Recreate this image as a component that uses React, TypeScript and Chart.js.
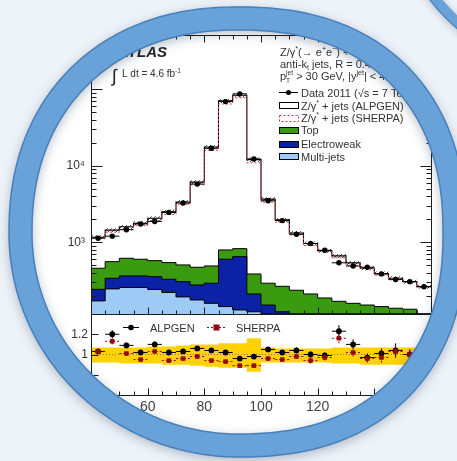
import React, { useEffect, useRef } from 'react';
import { Chart, registerables } from 'chart.js';

Chart.register(...registerables);

const FONT = '"Liberation Sans", Arial, Helvetica, sans-serif';

// ---------------- data ----------------
const binEdges = [40, 45, 50, 55, 60, 65, 70, 75, 80, 85, 90, 95, 100, 105, 110, 115, 120, 125, 130, 135, 140, 145, 150, 155, 160];
const xTickValues = [40, 60, 80, 100, 120, 140, 160];

const dataEvents = [1136, 1208, 1468, 1745, 1882, 2471, 3282, 5792, 17019, 69412, 87500, 12347, 3505, 1931, 1279, 968, 789, 542, 491, 474, 388, 327, 307, 264];
const alpgenTotal = [1170, 1450, 1600, 1780, 2070, 2520, 3380, 6140, 17700, 70800, 84000, 12100, 3680, 1970, 1330, 968, 781, 667, 540, 460, 392, 340, 307, 264];
const sherpaTotal = [1170, 1365, 1483, 1658, 1938, 2323, 3151, 5676, 15998, 64553, 77875, 10989, 3365, 1834, 1253, 910, 765, 629, 501, 455, 376, 337, 307, 264];
const mcRelErr = [0.06, 0.06, 0.06, 0.06, 0.06, 0.06, 0.06, 0.06, 0.06, 0.06, 0.06, 0.07, 0.06, 0.06, 0.06, 0.06, 0.06, 0.06, 0.06, 0.06, 0.06, 0.06, 0.06, 0.06];

const topBkg = [216, 221, 256, 238, 221, 215, 201, 196, 200, 195, 178, 175, 141, 143, 237, 212, 188, 170, 160, 152, 145, 138, 134, 0];
const ewBkg = [72, 93, 107, 107, 114, 108, 113, 101, 133, 458, 521, 88, 152, 124, 0, 0, 0, 0, 0, 0, 0, 0, 0, 0];
const multijetBkg = [172, 247, 258, 258, 243, 222, 194, 177, 160, 145, 131, 124, 0, 0, 0, 0, 0, 0, 0, 0, 0, 0, 0, 0];

const alpgenRatio = [1.03, 1.20, 1.09, 1.02, 1.10, 1.02, 1.03, 1.06, 1.04, 1.02, 0.96, 0.98, 1.05, 1.02, 1.04, 1.00, 0.99, 1.23, 1.10, 0.97, 1.01, 1.04, 1.00, 1.00];
const alpgenRatioErr = [0.02, 0.04, 0.03, 0.02, 0.03, 0.02, 0.02, 0.02, 0.02, 0.01, 0.01, 0.02, 0.02, 0.02, 0.03, 0.03, 0.03, 0.06, 0.05, 0.04, 0.05, 0.07, 0.05, 0.05];
const sherpaRatio = [1.03, 1.13, 1.01, 0.95, 1.03, 0.94, 0.96, 0.98, 0.94, 0.93, 0.89, 0.89, 0.96, 0.95, 0.98, 0.94, 0.97, 1.16, 1.02, 0.96, 0.97, 1.03, 1.00, 1.00];
const sherpaRatioErr = [0.02, 0.03, 0.02, 0.02, 0.02, 0.02, 0.02, 0.02, 0.02, 0.01, 0.01, 0.02, 0.02, 0.02, 0.02, 0.03, 0.03, 0.05, 0.04, 0.04, 0.05, 0.06, 0.05, 0.05];
const ratioBandHigh = [1.07, 1.07, 1.07, 1.07, 1.08, 1.08, 1.09, 1.10, 1.10, 1.11, 1.11, 1.16, 1.07, 1.06, 1.06, 1.06, 1.06, 1.07, 1.07, 1.07, 1.07, 1.07, 1.07, 1.07];
const ratioBandLow = [0.92, 0.92, 0.91, 0.91, 0.91, 0.90, 0.90, 0.89, 0.88, 0.87, 0.87, 0.83, 0.92, 0.92, 0.92, 0.92, 0.92, 0.91, 0.91, 0.90, 0.90, 0.90, 0.90, 0.90];
const ratioLabelValues = [0.8, 1, 1.2];

const Y_MIN = 116;
const Y_MAX = 515000;
const R_MIN = 0.6;
const R_MAX = 1.4;

// ---------------- colours ----------------
const C_GREEN = '#3a9a10';
const C_EW = '#0b22a6';
const C_MJ = '#9ecbf6';
const C_YELLOW = '#ffd200';
const C_RED = '#d23a3a';
const C_DARKRED = '#940a0a';
const C_TEXT = '#333333';
const C_BG = '#eef3f9';
const C_RING = '#68a2d8';
const C_RING_EDGE = '#4780ba';

// ---------------- helpers ----------------
const centers = binEdges.slice(0, -1).map((e, i) => (e + binEdges[i + 1]) / 2);
const steps = (vals: number[]) => [
  ...vals.map((v, i) => ({ x: binEdges[i], y: v })),
  { x: binEdges[binEdges.length - 1], y: vals[vals.length - 1] },
];
const floorLog = (v: number) => Math.max(v, Y_MIN);
const cumMJ = multijetBkg.map((v) => floorLog(v));
const cumEW = multijetBkg.map((v, i) => floorLog(v + ewBkg[i]));
const cumTop = multijetBkg.map((v, i) => floorLog(v + ewBkg[i] + topBkg[i]));
const mcLow = alpgenTotal.map((v, i) => v * (1 - mcRelErr[i]));
const mcHigh = alpgenTotal.map((v, i) => v * (1 + mcRelErr[i]));

const hBars = (vals: number[]) => {
  const out: any[] = [];
  vals.forEach((v, i) => {
    out.push({ x: binEdges[i], y: v }, { x: binEdges[i + 1], y: v }, { x: binEdges[i + 1], y: null });
  });
  return out;
};
const errBars = (vals: number[], errs: number[]) => {
  const out: any[] = hBars(vals);
  vals.forEach((v, i) => {
    out.push({ x: centers[i], y: v - errs[i] }, { x: centers[i], y: v + errs[i] }, { x: centers[i], y: null });
  });
  return out;
};
const points = (vals: number[]) => vals.map((v, i) => ({ x: centers[i], y: v }));

const SUP: Record<string, string> = { '0': '⁰', '1': '¹', '2': '²', '3': '³', '4': '⁴', '5': '⁵', '6': '⁶', '7': '⁷', '8': '⁸', '9': '⁹' };

type Part = [string, 'n' | 'sup' | 'sub' | 'supsub', string?];
function rich(ctx: CanvasRenderingContext2D, parts: Part[], x: number, y: number, size: number, color = C_TEXT, style = '') {
  ctx.fillStyle = color;
  ctx.textBaseline = 'alphabetic';
  ctx.textAlign = 'left';
  let cx = x;
  for (const [t, kind, t2] of parts) {
    if (kind === 'n') {
      ctx.font = `${style}${size}px ${FONT}`;
      ctx.fillText(t, cx, y);
      cx += ctx.measureText(t).width;
    } else if (kind === 'sup') {
      ctx.font = `${style}${size * 0.65}px ${FONT}`;
      ctx.fillText(t, cx, y - size * 0.42);
      cx += ctx.measureText(t).width;
    } else if (kind === 'sub') {
      ctx.font = `${style}${size * 0.65}px ${FONT}`;
      ctx.fillText(t, cx, y + size * 0.22);
      cx += ctx.measureText(t).width;
    } else {
      ctx.font = `${style}${size * 0.6}px ${FONT}`;
      ctx.fillText(t, cx, y - size * 0.45);
      const w1 = ctx.measureText(t).width;
      ctx.fillText(t2 || '', cx, y + size * 0.25);
      const w2 = ctx.measureText(t2 || '').width;
      cx += Math.max(w1, w2);
    }
  }
  return cx;
}

// lens geometry (decorative magnifier ring, slightly squarish)
const LENS = { cx: 238, cy: 233, aL: 206, aR: 205, bT: 203, bB: 201, nTL: 2.2, nTR: 2.3, nBR: 2.3, nBL: 2.0, w: 23 };
const LENS2 = { cx: 575, cy: -110, r: 172, w: 10 };

function lensPath(ctx: CanvasRenderingContext2D, grow: number) {
  const N = 360;
  for (let i = 0; i <= N; i++) {
    const t = (i / N) * Math.PI * 2;
    const c = Math.cos(t);
    const s = Math.sin(t);
    const right = c >= 0;
    const bottom = s >= 0;
    const n = right ? (bottom ? LENS.nBR : LENS.nTR) : (bottom ? LENS.nBL : LENS.nTL);
    const a = (right ? LENS.aR : LENS.aL) + grow;
    const b = (bottom ? LENS.bB : LENS.bT) + grow;
    const x = LENS.cx + a * Math.sign(c) * Math.pow(Math.abs(c), 2 / n);
    const y = LENS.cy + b * Math.sign(s) * Math.pow(Math.abs(s), 2 / n);
    if (i === 0) ctx.moveTo(x, y);
    else ctx.lineTo(x, y);
  }
  ctx.closePath();
}

const framePlugin = {
  id: 'frame',
  afterDatasetsDraw(chart: any) {
    const ctx: CanvasRenderingContext2D = chart.ctx;
    const xs = chart.scales.x;
    const ym = chart.scales.y;
    const yr = chart.scales.yr;
    const L = Math.round(xs.left) + 0.5;
    const R = Math.round(xs.right) + 0.5;
    const T = Math.round(ym.top) + 0.5;
    const M = Math.round(ym.bottom) + 0.5;
    const B = Math.round(yr.bottom) + 0.5;
    ctx.save();
    ctx.strokeStyle = '#1a1a1a';
    ctx.lineWidth = 1;
    const line = (x1: number, y1: number, x2: number, y2: number) => {
      ctx.beginPath();
      ctx.moveTo(x1, y1);
      ctx.lineTo(x2, y2);
      ctx.stroke();
    };
    line(L, T, R, T);
    line(L, M, R, M);
    line(L, B, R, B);
    line(L, T, L, B);
    line(R, T, R, B);
    for (let v = xs.min; v <= xs.max + 1e-9; v += binEdges[1] - binEdges[0]) {
      const px = Math.round(xs.getPixelForValue(v)) + 0.5;
      const major = xTickValues.includes(v);
      const len = major ? 7 : 4;
      line(px, T, px, T + len);
      line(px, M, px, M - len);
      line(px, B, px, B - len);
    }
    for (let d = Math.floor(Math.log10(ym.min)); d <= Math.ceil(Math.log10(ym.max)); d++) {
      for (let k = 1; k <= 9; k++) {
        const v = k * Math.pow(10, d);
        if (v < ym.min || v > ym.max) continue;
        const py = Math.round(ym.getPixelForValue(v)) + 0.5;
        const len = k === 1 ? 11 : 5;
        line(L, py, L + len, py);
        line(R, py, R - len, py);
      }
    }
    for (const t of yr.ticks) {
      const py = Math.round(yr.getPixelForValue(t.value)) + 0.5;
      line(L, py, L + 7, py);
      line(R, py, R - 7, py);
    }
    ctx.restore();

    // ---- annotations ----
    ctx.save();
    ctx.font = `italic bold 15px ${FONT}`;
    const aw = ctx.measureText('ATLAS').width;
    ctx.fillStyle = '#222';
    ctx.textBaseline = 'alphabetic';
    ctx.fillText('ATLAS', 167 - aw, 57);
    ctx.font = `18px ${FONT}`;
    ctx.fillText('∫', 112, 82);
    rich(ctx, [['L dt = 4.6 fb', 'n'], ['-1', 'sup']], 122, 77, 10);

    rich(ctx, [['Z/γ', 'n'], ['*', 'sup'], ['(→ e', 'n'], ['+', 'sup'], ['e', 'n'], ['−', 'sup'], [') + ≥ 1 jet', 'n']], 280, 56, 11);
    rich(ctx, [['anti-k', 'n'], ['t', 'sub'], [' jets, R = 0.4', 'n']], 280, 68, 11);
    rich(ctx, [['p', 'n'], ['jet', 'supsub', 'T'], [' > 30 GeV, |y', 'n'], ['jet', 'sup'], ['| < 4.4', 'n']], 280, 80, 11);

    const lx1 = 279, lx2 = 298, tx = 301;
    ctx.strokeStyle = '#000';
    ctx.lineWidth = 1;
    line(lx1, 92.5, lx2, 92.5);
    ctx.beginPath();
    ctx.arc((lx1 + lx2) / 2, 92.5, 2.5, 0, Math.PI * 2);
    ctx.fillStyle = '#000';
    ctx.fill();
    rich(ctx, [['Data 2011 (√s = 7 TeV)', 'n']], tx, 96.5, 11);
    ctx.fillStyle = '#fff';
    ctx.fillRect(lx1 + 0.5, 102.5, lx2 - lx1, 6);
    ctx.strokeRect(lx1 + 0.5, 102.5, lx2 - lx1, 6);
    rich(ctx, [['Z/γ', 'n'], ['*', 'sup'], [' + jets (ALPGEN)', 'n']], tx, 109.5, 11);
    ctx.save();
    ctx.strokeStyle = C_RED;
    ctx.setLineDash([2, 2]);
    ctx.strokeRect(lx1 + 0.5, 115.5, lx2 - lx1, 6);
    ctx.restore();
    rich(ctx, [['Z/γ', 'n'], ['*', 'sup'], [' + jets (SHERPA)', 'n']], tx, 122, 11);
    const box = (y: number, col: string, label: string, by: number) => {
      ctx.fillStyle = col;
      ctx.fillRect(lx1 + 0.5, y, lx2 - lx1, 6);
      ctx.strokeStyle = '#000';
      ctx.strokeRect(lx1 + 0.5, y, lx2 - lx1, 6);
      rich(ctx, [[label, 'n']], tx, by, 11);
    };
    box(127.5, C_GREEN, 'Top', 134);
    box(141.5, C_EW, 'Electroweak', 148);
    box(153.5, C_MJ, 'Multi-jets', 160.5);

    ctx.strokeStyle = '#000';
    line(123, 327.5, 139, 327.5);
    ctx.beginPath();
    ctx.arc(131, 327.5, 2.8, 0, Math.PI * 2);
    ctx.fillStyle = '#000';
    ctx.fill();
    rich(ctx, [['ALPGEN', 'n']], 150, 332, 11);
    ctx.save();
    ctx.strokeStyle = C_DARKRED;
    ctx.setLineDash([2, 2]);
    line(207, 327.5, 226, 327.5);
    ctx.restore();
    ctx.fillStyle = C_DARKRED;
    ctx.fillRect(213.5, 324.5, 6, 6);
    rich(ctx, [['SHERPA', 'n']], 236, 332, 11);
    ctx.restore();
  },
};

const lensPlugin = {
  id: 'lens',
  beforeDraw(chart: any) {
    const ctx: CanvasRenderingContext2D = chart.ctx;
    ctx.save();
    ctx.fillStyle = '#ffffff';
    ctx.fillRect(0, 0, chart.width, chart.height);
    ctx.restore();
  },
  afterDraw(chart: any) {
    const ctx: CanvasRenderingContext2D = chart.ctx;
    const { width, height } = chart;
    ctx.save();
    ctx.beginPath();
    ctx.rect(0, 0, width, height);
    lensPath(ctx, 0);
    ctx.fillStyle = C_BG;
    ctx.fill('evenodd');

    // second lens (top-right corner)
    ctx.save();
    ctx.shadowColor = 'rgba(40,60,90,0.3)';
    ctx.shadowBlur = 8;
    ctx.shadowOffsetY = 2;
    ctx.beginPath();
    ctx.arc(LENS2.cx, LENS2.cy, LENS2.r + LENS2.w, 0, Math.PI * 2);
    ctx.arc(LENS2.cx, LENS2.cy, LENS2.r, 0, Math.PI * 2);
    ctx.fillStyle = C_RING;
    ctx.fill('evenodd');
    ctx.restore();
    ctx.strokeStyle = C_RING_EDGE;
    ctx.lineWidth = 1.2;
    ctx.beginPath();
    ctx.arc(LENS2.cx, LENS2.cy, LENS2.r + LENS2.w, 0, Math.PI * 2);
    ctx.stroke();

    // main lens ring
    ctx.save();
    ctx.shadowColor = 'rgba(40,60,90,0.35)';
    ctx.shadowBlur = 12;
    ctx.shadowOffsetY = 3;
    ctx.beginPath();
    lensPath(ctx, LENS.w);
    lensPath(ctx, 0);
    ctx.fillStyle = C_RING;
    ctx.fill('evenodd');
    ctx.restore();
    ctx.strokeStyle = C_RING_EDGE;
    ctx.lineWidth = 1.5;
    ctx.beginPath();
    lensPath(ctx, LENS.w);
    ctx.stroke();
    ctx.beginPath();
    lensPath(ctx, 0);
    ctx.stroke();
    ctx.restore();
  },
};

export default function App() {
  const ref = useRef<HTMLCanvasElement>(null);
  useEffect(() => {
    const canvas = ref.current!;
    const pc = document.createElement('canvas');
    pc.width = 4;
    pc.height = 4;
    const p = pc.getContext('2d')!;
    p.strokeStyle = 'rgba(0,0,0,0.85)';
    p.lineWidth = 0.8;
    p.beginPath();
    p.moveTo(0, 4);
    p.lineTo(4, 0);
    p.stroke();
    const hatch = canvas.getContext('2d')!.createPattern(pc, 'repeat');

    const stepDs = (vals: number[], extra: any) => ({
      type: 'line',
      data: steps(vals),
      stepped: true,
      pointRadius: 0,
      borderWidth: 1,
      ...extra,
    });

    const chart = new Chart(canvas, {
      type: 'line',
      data: {
        datasets: [
          stepDs(ratioBandLow, { yAxisID: 'yr', borderWidth: 0, fill: false, order: 100 }),
          stepDs(ratioBandHigh, { yAxisID: 'yr', borderWidth: 0, fill: '-1', backgroundColor: C_YELLOW, order: 99 }),
          {
            type: 'line', yAxisID: 'yr', order: 98, pointRadius: 0, borderWidth: 1,
            borderColor: '#8a7a50', borderDash: [1, 2],
            data: [{ x: binEdges[0], y: 1 }, { x: binEdges[binEdges.length - 1], y: 1 }],
          },
          stepDs(cumTop, { yAxisID: 'y', fill: 'start', backgroundColor: C_GREEN, borderColor: '#000', order: 90 }),
          stepDs(cumEW, { yAxisID: 'y', fill: 'start', backgroundColor: C_EW, borderColor: '#000', order: 89 }),
          stepDs(cumMJ, { yAxisID: 'y', fill: 'start', backgroundColor: C_MJ, borderColor: '#000', order: 88 }),
          stepDs(mcLow, { yAxisID: 'y', borderWidth: 0, fill: false, order: 80 }),
          stepDs(mcHigh, { yAxisID: 'y', borderWidth: 0, fill: '-1', backgroundColor: hatch, order: 79 }),
          stepDs(alpgenTotal, { yAxisID: 'y', borderColor: '#000', borderWidth: 1.1, fill: false, order: 70 }),
          stepDs(sherpaTotal, { yAxisID: 'y', borderColor: C_RED, borderDash: [2, 2], borderWidth: 1, fill: false, order: 69 }),
          {
            type: 'line', yAxisID: 'y', order: 60, pointRadius: 0, borderWidth: 1, borderColor: '#000',
            spanGaps: false, data: hBars(dataEvents),
          },
          {
            type: 'line', yAxisID: 'y', order: 59, showLine: false, pointRadius: 2.7,
            pointBackgroundColor: '#000', pointBorderColor: '#000', pointBorderWidth: 0,
            data: points(dataEvents),
          },
          {
            type: 'line', yAxisID: 'yr', order: 52, pointRadius: 0, borderWidth: 1, borderColor: '#000',
            spanGaps: false, data: errBars(alpgenRatio, alpgenRatioErr),
          },
          {
            type: 'line', yAxisID: 'yr', order: 51, showLine: false, pointRadius: 2.9,
            pointBackgroundColor: '#000', pointBorderColor: '#000', pointBorderWidth: 0,
            data: points(alpgenRatio),
          },
          {
            type: 'line', yAxisID: 'yr', order: 50, pointRadius: 0, borderWidth: 1, borderColor: C_DARKRED,
            borderDash: [2, 2], spanGaps: false, data: errBars(sherpaRatio, sherpaRatioErr),
          },
          {
            type: 'line', yAxisID: 'yr', order: 49, showLine: false, pointRadius: 3.2, pointStyle: 'rect',
            pointBackgroundColor: C_DARKRED, pointBorderColor: C_DARKRED, pointBorderWidth: 0,
            data: points(sherpaRatio),
          },
        ] as any,
      },
      options: {
        responsive: false,
        devicePixelRatio: 1,
        animation: false,
        events: [],
        layout: { padding: { top: 35, right: 26, left: 0, bottom: 0 } },
        plugins: {
          legend: { display: false },
          tooltip: { enabled: false },
          colors: { enabled: false },
        } as any,
        scales: {
          x: {
            type: 'linear',
            min: binEdges[0],
            max: binEdges[binEdges.length - 1],
            grid: { display: false, drawTicks: false },
            border: { display: false },
            afterBuildTicks: (scale: any) => {
              scale.ticks = xTickValues.map((v) => ({ value: v }));
            },
            afterFit: (scale: any) => {
              scale.height = 66;
            },
            ticks: {
              padding: 4,
              maxRotation: 0,
              autoSkip: false,
              color: '#444',
              font: { family: FONT, size: 14 },
              callback: (v: any) => String(v),
            },
          },
          yr: {
            type: 'linear',
            position: 'left',
            stack: 'panels',
            stackWeight: 81,
            min: R_MIN,
            max: R_MAX,
            grid: { display: false, drawTicks: false },
            border: { display: false },
            afterFit: (scale: any) => {
              scale.width = 91;
            },
            ticks: {
              stepSize: 0.2,
              padding: 3,
              autoSkip: false,
              color: C_TEXT,
              font: { family: FONT, size: 12 },
              callback: (v: any) => {
                const r = Math.round(Number(v) * 10) / 10;
                return ratioLabelValues.includes(r) ? String(r) : '';
              },
            },
          },
          y: {
            type: 'logarithmic',
            position: 'left',
            stack: 'panels',
            stackWeight: 279,
            min: Y_MIN,
            max: Y_MAX,
            grid: { display: false, drawTicks: false },
            border: { display: false },
            afterFit: (scale: any) => {
              scale.width = 91;
            },
            ticks: {
              padding: 6,
              autoSkip: false,
              color: C_TEXT,
              font: { family: FONT, size: 12 },
              callback: (v: any) => {
                const lg = Math.log10(Number(v));
                if (Math.abs(lg - Math.round(lg)) > 1e-6) return '';
                return '10' + String(Math.round(lg)).split('').map((c) => SUP[c]).join('');
              },
            },
          },
        } as any,
      },
      plugins: [lensPlugin, framePlugin],
    } as any);
    return () => chart.destroy();
  }, []);

  return (
    <div style={{ position: 'fixed', left: 0, top: 0, width: 457, height: 461, background: C_BG }}>
      <canvas ref={ref} width={457} height={461} style={{ display: 'block', width: 457, height: 461 }} />
    </div>
  );
}
